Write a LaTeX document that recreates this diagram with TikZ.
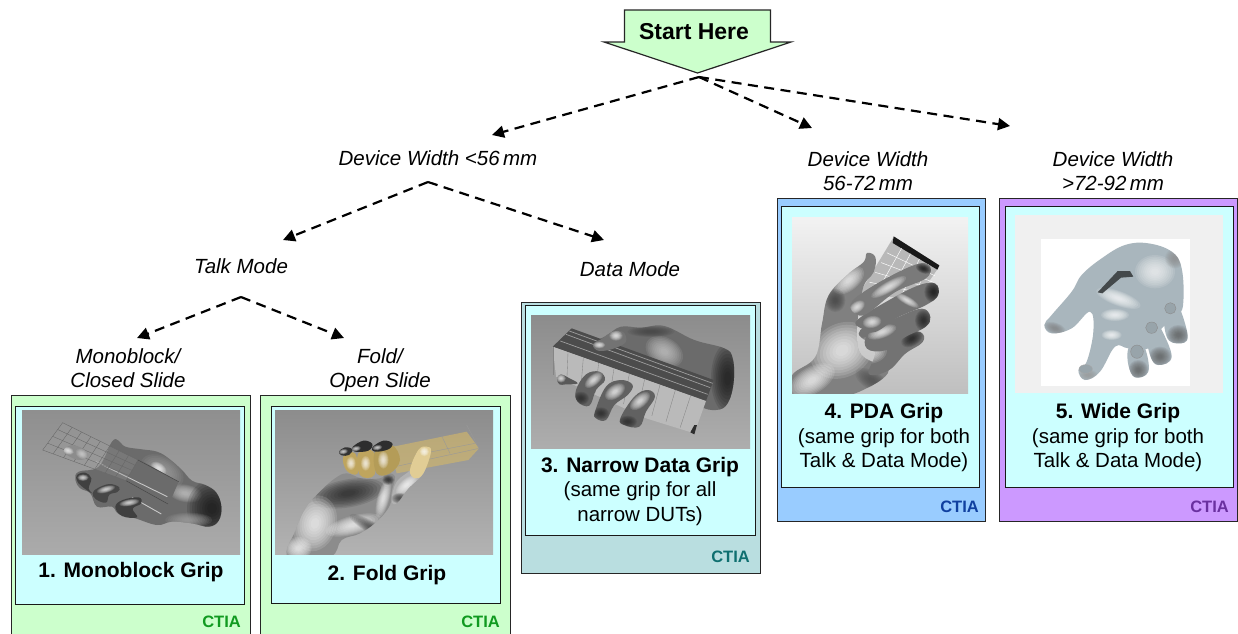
\documentclass[tikz,border=0pt]{standalone}
\usepackage{fontspec}
\setmainfont{Liberation Sans}
\usetikzlibrary{arrows.meta,calc}
\newcommand\lfs{\fontsize{20.5}{24.5}\selectfont}
\newcommand\glow[6]{\foreach \s in {1,.9,...,.1}{\fill[#6,fill opacity=.13] (#1,#2) ellipse [x radius=#3*\s, y radius=#4*\s, rotate=#5];}}
\newcommand\solid[3]{\begin{scope}\clip plot[smooth cycle,tension=.65] coordinates {#2};\fill[#1] (-100,-100) rectangle (800,800);#3\end{scope}}
\newcommand\capttl[1]{{\fontsize{21}{25}\selectfont\bfseries #1}}
\tikzset{
  outerbox/.style={draw=black!85,line width=1.4pt,anchor=north west,inner sep=0pt},
  innerbox/.style={draw=black!90,line width=1.4pt,fill=cyanbg,anchor=north west,inner sep=0pt},
  branch/.style={line width=2.2pt,dash pattern=on 10pt off 6.5pt,-{Triangle[length=12pt,width=12pt]}},
  labeltext/.style={font=\lfs\itshape,align=center,inner sep=0pt},
  captiontext/.style={font=\lfs,align=center,inner sep=0pt},
  ctialabel/.style={font=\fontsize{16.5}{18}\selectfont\bfseries,anchor=east,inner sep=0pt},
  wire/.style={line width=.35pt,draw=black!60},
}
\definecolor{greenbg}{HTML}{CCFFCC}
\definecolor{cyanbg}{HTML}{CCFFFF}
\definecolor{tealbg}{HTML}{B9DEE0}
\definecolor{bluebg}{HTML}{99CCFF}
\definecolor{violetbg}{HTML}{CC99FF}
\definecolor{ctiagreen}{HTML}{109A20}
\definecolor{ctiateal}{HTML}{0F6F70}
\definecolor{ctiablue}{HTML}{1040A0}
\definecolor{ctiaviolet}{HTML}{6A30A0}
\definecolor{ybl}{HTML}{D4B868}
\definecolor{hand5}{HTML}{A9B6BD}
\begin{document}
\begin{tikzpicture}[x=1pt,y=-1pt]
\useasboundingbox (0,0) rectangle (1238,633);
% start arrow
\draw[fill=greenbg,line width=1.2pt,draw=black!85] (624.5,10) -- (770.5,10) -- (770.5,42) -- (791,42) -- (697.5,73) -- (604,42) -- (624.5,42) -- cycle;
\node[font=\fontsize{23}{26}\selectfont\bfseries,inner sep=0pt] (start) at (694,32) {Start Here};
% outer boxes
\node[outerbox,fill=greenbg,minimum width=239pt,minimum height=250pt] (b1) at (11,395) {};
\node[outerbox,fill=greenbg,minimum width=250pt,minimum height=250pt] (b2) at (260,395) {};
\node[outerbox,fill=tealbg,minimum width=239pt,minimum height=271pt] (b3) at (521,302) {};
\node[outerbox,fill=bluebg,minimum width=208pt,minimum height=323pt] (b4) at (776.5,198) {};
\node[outerbox,fill=violetbg,minimum width=238pt,minimum height=323pt] (b5) at (999,198) {};
% inner boxes
\node[innerbox,minimum width=229pt,minimum height=198pt] (i1) at (15,406) {};
\node[innerbox,minimum width=229pt,minimum height=197pt] (i2) at (271,406) {};
\node[innerbox,minimum width=230pt,minimum height=230pt] (i3) at (525,305) {};
\node[innerbox,minimum width=198pt,minimum height=281pt] (i4) at (781,206) {};
\node[innerbox,minimum width=228pt,minimum height=281pt] (i5) at (1005,206) {};
% ---- image 1
\begin{scope}[shift={(22,410)},scale=1/3]
\clip (0,0) rectangle (654,432);
\fill[top color=black!44,bottom color=black!33] (0,0) rectangle (654,432);
\solid{black!58}{(270,95)(290,92)(310,110)(360,118)(405,125)(440,145)(480,180)(510,212)(550,225)(583,248)(598,290)(590,332)(560,350)(510,340)(450,335)(405,345)(340,325)(290,312)(270,290)(225,290)(205,250)(175,235)(160,210)(170,185)(230,170)}{
\glow{420}{185}{70}{45}{-30}{black!35}
\glow{410}{175}{26}{16}{-35}{white}
\glow{490}{250}{50}{26}{-10}{black!20}
\glow{570}{295}{75}{85}{0}{black!95}
\glow{500}{330}{70}{22}{0}{black!35}
}
\fill[black!58] (340,142) -- (470,215) -- (415,342) -- (215,232) -- (262,190) -- cycle;
\draw[white!78!black,line width=.9pt] (222,155) -- (436,260);
\draw[white!78!black,line width=.9pt] (330,262) -- (418,312);
\draw[black!72,line width=.5pt] (348,150) -- (470,215) (312,212) -- (438,282);
\fill[black!40,fill opacity=.3] (122,38) -- (348,150) -- (312,212) -- (62,122) -- cycle;
\foreach \t in {0,.125,...,1}{\draw[wire] ($(122,38)!\t!(348,150)$) -- ($(62,120)!\t!(312,212)$);}
\foreach \t in {0,.25,...,1}{\draw[wire] ($(122,38)!\t!(62,120)$) -- ($(348,150)!\t!(312,212)$);}
\solid{black!45}{(125,120)(150,105)(185,118)(198,140)(170,150)(135,135)}{\glow{138}{122}{18}{11}{-20}{white}\glow{180}{132}{20}{14}{-30}{black!15}}
\solid{black!75}{(165,195)(190,188)(208,205)(200,235)(210,250)(178,228)(165,212)}{\glow{183}{203}{17}{10}{0}{white}}
\solid{black!72}{(226,235)(262,222)(292,232)(286,246)(262,254)(252,278)(222,268)(212,250)}{\glow{252}{238}{28}{10}{15}{white}}
\solid{black!75}{(280,290)(302,270)(350,262)(358,280)(332,296)(345,322)(300,318)}{\glow{322}{278}{30}{10}{10}{white}}
\end{scope}
% ---- image 2
\begin{scope}[shift={(275,410)},scale=1/3]
\clip (0,0) rectangle (654,432);
\fill[top color=black!45,bottom color=black!30] (0,0) rectangle (654,432);
\solid{black!30}{(365,215)(410,175)(430,120)(455,110)(468,125)(445,190)(400,235)(365,280)(350,270)}{\glow{395}{225}{40}{18}{40}{white}\glow{375}{265}{25}{16}{0}{black!80}}
\solid{black!45}{(40,440)(62,360)(95,290)(140,240)(180,205)(215,190)(260,205)(315,205)(335,190)(360,200)(350,245)(345,285)(310,330)(255,370)(200,390)(165,440)}{
\glow{220}{250}{110}{42}{10}{black!88}
\glow{120}{340}{65}{85}{-15}{white}
\glow{235}{345}{85}{28}{15}{white}
\glow{325}{265}{18}{60}{-15}{white}
\glow{70}{415}{40}{34}{0}{white}
\glow{285}{350}{70}{18}{-30}{black!75}
\glow{340}{210}{18}{15}{0}{black!90}
}
\fill[ybl,fill opacity=.62] (345,112) -- (575,65) -- (612,115) -- (580,150) -- (365,190) -- cycle;
\draw[black!40,line width=.4pt] (575,45) -- (612,115) -- (580,122) -- (360,170) (500,78) -- (525,130) (420,135) -- (600,100);
\solid{ybl!90!black}{(205,140)(240,130)(248,190)(215,182)}{\glow{228}{160}{14}{20}{0}{white}}
\solid{ybl!90!black}{(250,130)(295,125)(298,195)(255,195)}{\glow{272}{160}{14}{22}{0}{white}}
\solid{ybl!85!black}{(300,125)(350,105)(375,150)(345,190)(305,190)}{\glow{325}{150}{16}{26}{0}{white}}
\solid{ybl!70!white}{(430,120)(455,110)(468,125)(445,190)(420,205)(405,180)}{\glow{448}{125}{14}{14}{0}{white}}
\solid{black!80}{(192,125)(210,112)(232,118)(222,135)(200,136)}{\glow{205}{125}{14}{8}{10}{white}}
\solid{black!82}{(232,112)(265,92)(292,102)(280,122)(240,125)}{\glow{243}{116}{15}{8}{10}{white}}
\solid{black!82}{(292,112)(325,92)(352,100)(340,118)(300,125)}{\glow{307}{113}{15}{8}{10}{white}}
\end{scope}
% ---- image 3
\begin{scope}[shift={(531,315)},scale=1/3]
\clip (0,0) rectangle (657,399);
\fill[top color=black!45,bottom color=black!32] (0,0) rectangle (657,399);
\solid{black!58}{(190,85)(230,60)(270,35)(330,38)(400,33)(490,75)(580,100)(605,130)(608,200)(590,265)(555,285)(500,270)(400,200)(230,110)}{
\glow{400}{110}{60}{42}{-30}{black!20}
\glow{590}{190}{50}{105}{0}{black!92}
\glow{360}{50}{70}{16}{0}{black!75}
}
\fill[black!70] (122,40) -- (548,195) -- (525,258) -- (65,95) -- cycle;
\draw[black!38,line width=.7pt] (105,58) -- (538,218) (88,78) -- (530,238) (115,48) -- (545,205);
\fill[black!27] (65,95) -- (525,258) -- (490,355) -- (345,310) -- (75,185) -- cycle;
\foreach \t in {0,.1,...,1}{\draw[black!48,line width=.35pt] ($(65,95)!\t!(525,258)$) -- ($(65,180)!\t!(490,355)$);}
\fill[black!82] (478,352) -- (490,358) -- (498,330) -- (490,330) -- cycle;
\solid{black!65}{(78,190)(90,178)(112,188)(140,205)(105,208)(85,208)}{\glow{90}{190}{15}{13}{0}{white}}
\solid{black!62}{(135,225)(165,178)(205,170)(222,195)(195,225)(175,272)(140,260)}{\glow{188}{195}{32}{16}{40}{white}\glow{150}{250}{24}{20}{0}{black!85}}
\solid{black!62}{(192,290)(225,215)(270,195)(305,210)(290,240)(250,270)(225,315)(195,310)}{\glow{252}{230}{34}{20}{35}{white}\glow{210}{295}{24}{18}{0}{black!85}}
\solid{black!62}{(268,310)(310,245)(350,225)(372,245)(345,290)(325,335)(280,330)}{\glow{327}{258}{36}{19}{40}{white}\glow{290}{320}{28}{18}{0}{black!85}}
\solid{black!55}{(188,85)(215,70)(240,52)(275,50)(285,80)(250,100)(210,108)(190,100)}{\glow{255}{62}{20}{15}{0}{white}\glow{205}{90}{18}{10}{0}{white}}
\end{scope}
% ---- image 4
\begin{scope}[shift={(792,217)},scale=1/3]
\clip (0,0) rectangle (528,528);
\fill[top color=black!5,bottom color=black!25] (0,0) rectangle (528,528);
\fill[black!28] (305,60) -- (442,148) -- (410,195) -- (330,245) -- (205,225) -- cycle;
\fill[black!90] (305,58) -- (442,145) -- (436,158) -- (302,78) -- cycle;
\foreach \t in {.2,.4,.6,.8}{\draw[white,line width=.45pt] ($(302,78)!\t!(436,158)$) -- ($(215,225)!\t!(400,250)$);}
\foreach \t in {.2,.4,.6,.8}{\draw[white,line width=.45pt] ($(302,78)!\t!(215,225)$) -- ($(436,158)!\t!(400,250)$);}
\solid{black!50}{(0,475)(70,420)(90,320)(110,235)(170,170)(215,135)(225,108)(250,120)(245,165)(210,225)(200,400)(290,460)(200,525)(120,535)(0,540)}{
\glow{170}{190}{55}{30}{40}{white}
\glow{130}{250}{30}{35}{0}{black!75}
\glow{150}{400}{100}{80}{30}{white}
\glow{60}{490}{75}{40}{30}{white}
\glow{240}{490}{55}{28}{-30}{black!70}
}
\solid{black!55}{(250,400)(200,350)(250,320)(320,340)(385,345)(392,375)(340,410)(290,460)(230,470)}{\glow{230}{400}{55}{40}{0}{white}\glow{360}{365}{35}{22}{30}{black!90}}
\solid{black!55}{(230,350)(320,300)(390,275)(415,300)(400,330)(340,360)(280,400)(225,395)}{\glow{270}{345}{45}{18}{20}{white}\glow{395}{310}{26}{32}{0}{black!90}}
\solid{black!55}{(195,310)(290,250)(380,205)(430,200)(438,235)(400,265)(320,300)(250,345)(210,335)}{\glow{240}{315}{28}{18}{10}{white}\glow{345}{250}{40}{12}{-30}{white}\glow{425}{225}{28}{32}{0}{black!95}}
\solid{black!52}{(175,265)(200,235)(290,180)(380,140)(415,150)(400,185)(310,225)(225,290)(190,290)}{\glow{195}{270}{26}{16}{35}{white}\glow{290}{210}{60}{16}{30}{white}\glow{395}{155}{24}{14}{-20}{black!95}}
\end{scope}
% ---- image 5
\begin{scope}[shift={(1015,215)},scale=1/3]
\clip (0,0) rectangle (624,534);
\fill[black!6] (0,0) rectangle (624,534);
\fill[white] (77,72) rectangle (525,512);
\solid{hand5}{(330,90)(400,85)(470,110)(500,160)(505,260)(490,300)(440,340)(400,400)(340,400)(300,395)(255,470)(210,495)(190,465)(215,440)(235,350)(225,290)(170,340)(110,355)(88,330)(110,300)(170,230)(200,180)(260,130)}{
\glow{310}{250}{70}{22}{-20}{white}
\glow{300}{300}{42}{18}{0}{white}
\glow{420}{170}{60}{50}{0}{black!3}
\glow{290}{360}{30}{15}{0}{white}
\glow{120}{340}{34}{17}{-20}{black!50}
\glow{480}{130}{30}{30}{0}{black!45}
\glow{220}{480}{28}{16}{0}{black!40}
}
\solid{hand5}{(445,275)(465,258)(490,270)(518,365)(490,385)(455,365)}{\glow{490}{360}{34}{30}{0}{black!65}}
\solid{hand5}{(390,330)(415,315)(435,335)(470,425)(430,450)(405,420)}{\glow{435}{425}{34}{30}{0}{black!65}}
\solid{hand5}{(340,400)(365,385)(390,400)(400,470)(360,487)(340,450)}{\glow{370}{465}{30}{30}{0}{black!65}}
\fill[black!10!hand5,draw=black!45,line width=.4pt] (466,280) ellipse [x radius=17, y radius=17];
\fill[black!10!hand5,draw=black!45,line width=.4pt] (410,338) ellipse [x radius=18, y radius=17];
\fill[black!10!hand5,draw=black!45,line width=.4pt] (366,410) ellipse [x radius=19, y radius=20];
\fill[black!10!hand5,draw=black!35,line width=.4pt] (212,462) ellipse [x radius=20, y radius=13];
\fill[black!60!hand5] (248,232) -- (308,168) -- (345,168) -- (355,185) -- (318,188) -- (262,235) -- cycle;
\end{scope}
% captions
\node[captiontext] (c1) at (131,572) {\capttl{1. Monoblock Grip}};
\node[captiontext] (c2) at (387,575) {\capttl{2. Fold Grip}};
\node[captiontext] (c3) at (640,491) {\capttl{3. Narrow Data Grip}\\(same grip for all\\narrow DUTs)};
\node[captiontext] (c4) at (884,438) {\capttl{4. PDA Grip}\\(same grip for both\\Talk \& Data Mode)};
\node[captiontext] (c5) at (1118,438) {\capttl{5. Wide Grip}\\(same grip for both\\Talk \& Data Mode)};
% CTIA
\node[ctialabel,text=ctiagreen] (t1) at (241,622) {CTIA};
\node[ctialabel,text=ctiagreen] (t2) at (500,622) {CTIA};
\node[ctialabel,text=ctiateal] (t3) at (750,557) {CTIA};
\node[ctialabel,text=ctiablue] (t4) at (979,507) {CTIA};
\node[ctialabel,text=ctiaviolet] (t5) at (1229,507) {CTIA};
% labels
\node[labeltext] (w1) at (438,158) {Device Width <56\,mm};
\node[labeltext] (w2) at (868,171) {Device Width\\56-72\,mm};
\node[labeltext] (w3) at (1113,171) {Device Width\\>72-92\,mm};
\node[labeltext] (talk) at (241,266) {Talk Mode};
\node[labeltext] (data) at (630,269) {Data Mode};
\node[labeltext] (mono) at (128,368) {Monoblock/\\Closed Slide};
\node[labeltext] (fold) at (380,370) {Fold/\\Open Slide};
% connector ends
\coordinate (s0) at (699,77);
\coordinate (a1) at (492,135);
\coordinate (a2) at (812,128);
\coordinate (a3) at (1010,126);
\coordinate (w0) at (428,182);
\coordinate (a4) at (283,240);
\coordinate (a5) at (604,240);
\coordinate (k0) at (241,297);
\coordinate (a6) at (137,338);
\coordinate (a7) at (344,338);
\draw[branch] (s0) -- (a1);
\draw[branch] (s0) -- (a2);
\draw[branch] (s0) -- (a3);
\draw[branch] (w0) -- (a4);
\draw[branch] (w0) -- (a5);
\draw[branch] (k0) -- (a6);
\draw[branch] (k0) -- (a7);
\end{tikzpicture}
\end{document}
